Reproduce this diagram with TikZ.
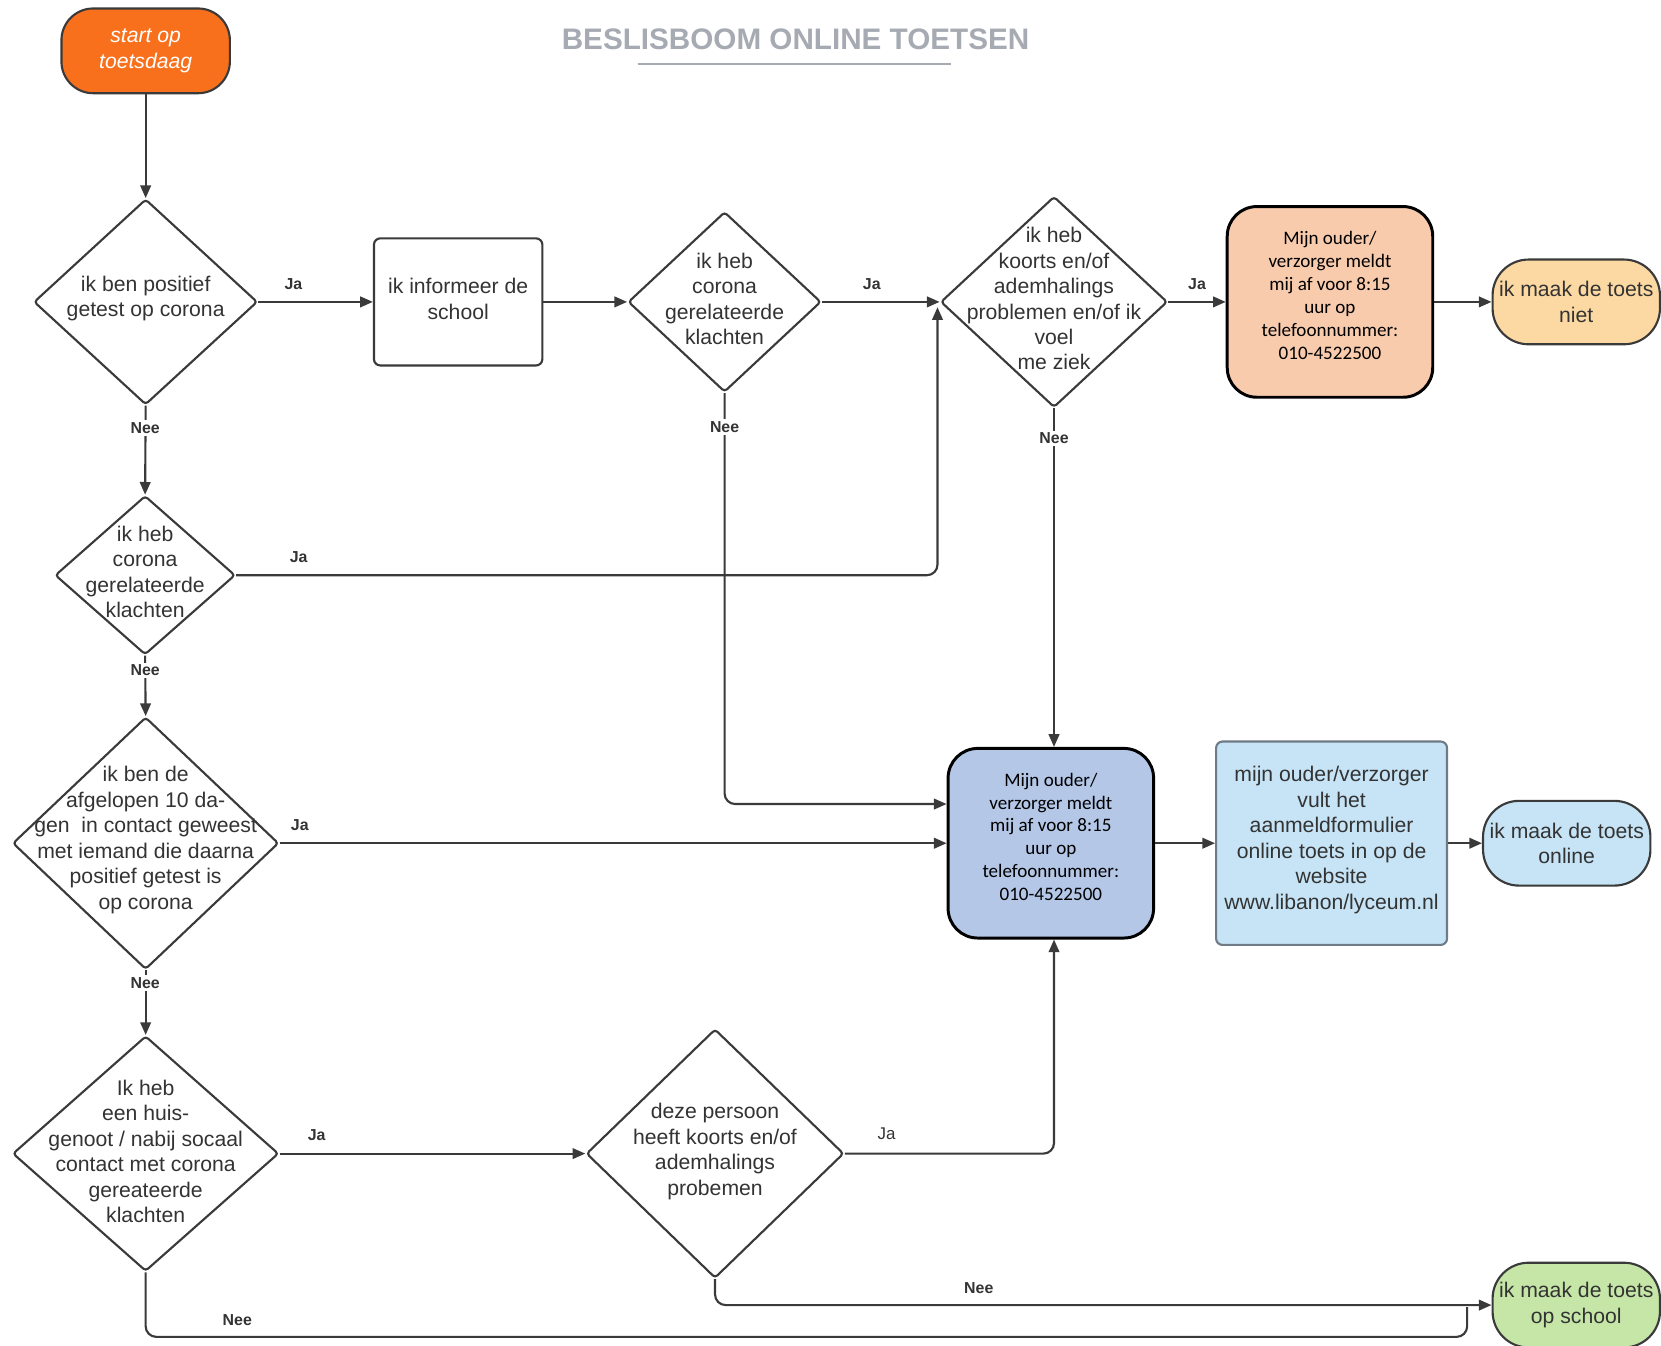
\documentclass[tikz,border=0pt]{standalone}
\usepackage{fontspec}
\setmainfont{Liberation Sans}
\newfontfamily\calibri{Carlito}
\usetikzlibrary{shapes.geometric,arrows.meta}
\definecolor{linec}{HTML}{3A3A3A}
\definecolor{txtc}{HTML}{333333}
\definecolor{titlec}{HTML}{A6AAB2}
\definecolor{startc}{HTML}{F8701C}
\definecolor{peach}{HTML}{F8CBAD}
\definecolor{lorange}{HTML}{FCD9A2}
\definecolor{pblue}{HTML}{B4C7E7}
\definecolor{lblue}{HTML}{C6E4F5}
\definecolor{lgreen}{HTML}{C6E6A8}
\definecolor{boxgray}{HTML}{6F7B86}
\begin{document}
\begin{tikzpicture}[x=0.5pt,y=-0.5pt,
  dia/.style={diamond, draw=linec, line width=1pt, fill=white, inner sep=0pt, rounded corners=1.5pt},
  txt/.style={align=center, text=txtc, font=\fontsize{10}{12}\selectfont, inner sep=0pt},
  ctxt/.style={align=center, text=black, font=\calibri\fontsize{9}{10.8}\selectfont, inner sep=0pt},
  arr/.style={draw=linec, line width=1pt, -{Triangle[length=6pt,width=5pt]}},
  ln/.style={draw=linec, line width=1pt},
  lab/.style={font=\bfseries\fontsize{7.5}{9}\selectfont, text=txtc, inner sep=1pt},
  term/.style={draw=linec, line width=1pt, minimum width=79pt, minimum height=40pt, rounded corners=17pt, inner sep=0pt, align=center, text=txtc, font=\fontsize{10}{12}\selectfont},
  phone/.style={draw=black, line width=1.4pt, rounded corners=14pt, minimum width=97pt, minimum height=90pt, inner sep=0pt}
]
\path[use as bounding box] (0,0) rectangle (1568,1270);

% title
\node[font=\bfseries\fontsize{14}{16}\selectfont, text=titlec, inner sep=0pt] (title) at (751,37) {BESLISBOOM ONLINE TOETSEN};
\coordinate (ul1) at (602,60);
\coordinate (ul2) at (898,60);
\draw[titlec, line width=1pt] (ul1) -- (ul2);

% nodes
\node[draw=linec, line width=1pt, fill=startc, rounded corners=15pt, minimum width=79.5pt, minimum height=40pt, align=center, text=white, font=\itshape\fontsize{10}{12}\selectfont, inner sep=0pt] (start) at (137.5,48) {start op\\toetsdaag};

\node[dia, minimum width=105.5pt, minimum height=97pt, label={[txt,yshift=1.5pt]center:{ik ben positief\\getest op corona}}] (d1) at (137.5,285) {};

\node[draw=linec, line width=1pt, fill=white, rounded corners=3pt, minimum width=79.5pt, minimum height=60pt, label={[txt,yshift=1.5pt]center:{ik informeer de\\school}}] (b1) at (432.5,285) {};

\node[dia, minimum width=91pt, minimum height=85pt, label={[txt,yshift=1.5pt]center:{ik heb\\corona\\gerelateerde\\klachten}}] (d2) at (684,285) {};

\node[dia, minimum width=107pt, minimum height=99.5pt, label={[txt,yshift=1.5pt]center:{ik heb\\koorts en/of\\ademhalings\\problemen en/of ik\\voel\\me ziek}}] (d3) at (995,285) {};

\node[phone, fill=peach, label={[ctxt,yshift=3pt]center:{Mijn ouder/\\verzorger meldt\\mij af voor 8:15\\uur op\\telefoonnummer:\\010-4522500}}] (p1) at (1255.5,285) {};

\node[term, fill=lorange] (t1) at (1488,285) {ik maak de toets\\niet};

\node[dia, minimum width=85pt, minimum height=75pt, label={[txt,yshift=1.5pt]center:{ik heb\\corona\\gerelateerde\\klachten}}] (d4) at (137,543) {};

\node[dia, minimum width=125.5pt, minimum height=119pt, label={[txt,yshift=1.5pt]center:{ik ben de\\afgelopen 10 da-\\gen\ \ in contact geweest\\met iemand die daarna\\positief getest is\\op corona}}] (d5) at (137.5,796) {};

\node[phone, fill=pblue, minimum height=89.5pt, label={[ctxt,yshift=3pt]center:{Mijn ouder/\\verzorger meldt\\mij af voor 8:15\\uur op\\telefoonnummer:\\010-4522500}}] (p2) at (992,796) {};

\node[draw=boxgray, line width=1pt, fill=lblue, rounded corners=3pt, minimum width=109pt, minimum height=96pt, label={[txt,yshift=1.5pt]center:{mijn ouder/verzorger\\vult het\\aanmeldformulier\\online toets in op de\\website\\www.libanon/lyceum.nl}}] (b2) at (1257,796) {};

\node[term, fill=lblue] (t2) at (1479,796) {ik maak de toets\\online};

\node[dia, minimum width=125.5pt, minimum height=111pt, label={[txt,yshift=1pt]center:{Ik heb\\een huis-\\genoot / nabij socaal\\contact met corona\\gereateerde\\klachten}}] (d6) at (137.5,1089) {};

\node[dia, minimum width=121.5pt, minimum height=117.5pt, label={[txt,yshift=1pt]center:{deze persoon\\heeft koorts en/of\\ademhalings\\probemen}}] (d7) at (675,1089) {};

\node[term, fill=lgreen] (t3) at (1488,1232) {ik maak de toets\\op school};

% connectors
\draw[arr] (start.south) -- (d1.north);
\draw[arr] (d1.east) -- (b1.west);
\node[lab] (ja1) at (277,268) {Ja};
\draw[arr] (b1.east) -- (d2.west);
\draw[arr] (d2.east) -- (d3.west);
\node[lab] (ja2) at (823,268) {Ja};
\draw[arr] (d3.east) -- (p1.west);
\node[lab] (ja3) at (1130,268) {Ja};
\draw[arr] (p1.east) -- (t1.west);

\draw[arr] (d1.south) -- (d4.north);
\node[lab, fill=white] (nee1) at (137,404) {Nee};

\draw[arr, rounded corners=5pt] (d4.east) -| ([shift={(-2,5)}]d3.west);
\node[lab] (ja4) at (282,526) {Ja};

\draw[arr, rounded corners=5pt] (d2.south) |- ([shift={(0,-37)}]p2.west);
\node[lab, fill=white] (nee2) at (684,403) {Nee};

\draw[arr] (d3.south) -- (d3.south |- p2.north);
\node[lab, fill=white] (nee3) at (995,414) {Nee};

\draw[arr] (d4.south) -- (d5.north);
\node[lab, fill=white] (nee4) at (137,633) {Nee};

\draw[arr] (d5.east) -- (p2.west |- d5.east);
\node[lab] (ja5) at (283,779) {Ja};

\draw[arr] (p2.east) -- (b2.west);
\draw[arr] (b2.east) -- (t2.west);

\draw[arr] (d5.south) -- (d6.north);
\node[lab, fill=white] (nee5) at (137,928) {Nee};

\draw[arr] (d6.east) -- (d7.west);
\node[lab] (ja6) at (299,1072) {Ja};

\draw[arr, rounded corners=5pt] (d7.east) -| (d3.south |- p2.south);
\node[font=\fontsize{8}{9}\selectfont, text=txtc, inner sep=1pt] (ja7) at (837,1070) {Ja};

\draw[arr, rounded corners=5pt] (d7.south) |- (t3.west);
\node[lab] (nee6) at (924,1216) {Nee};

\coordinate (jb) at (1385,1262);
\draw[ln, rounded corners=5pt] (d6.south) |- (jb) -- ([yshift=-1pt]jb |- t3.west);
\node[lab] (nee7) at (224,1246) {Nee};
\end{tikzpicture}
\end{document}
